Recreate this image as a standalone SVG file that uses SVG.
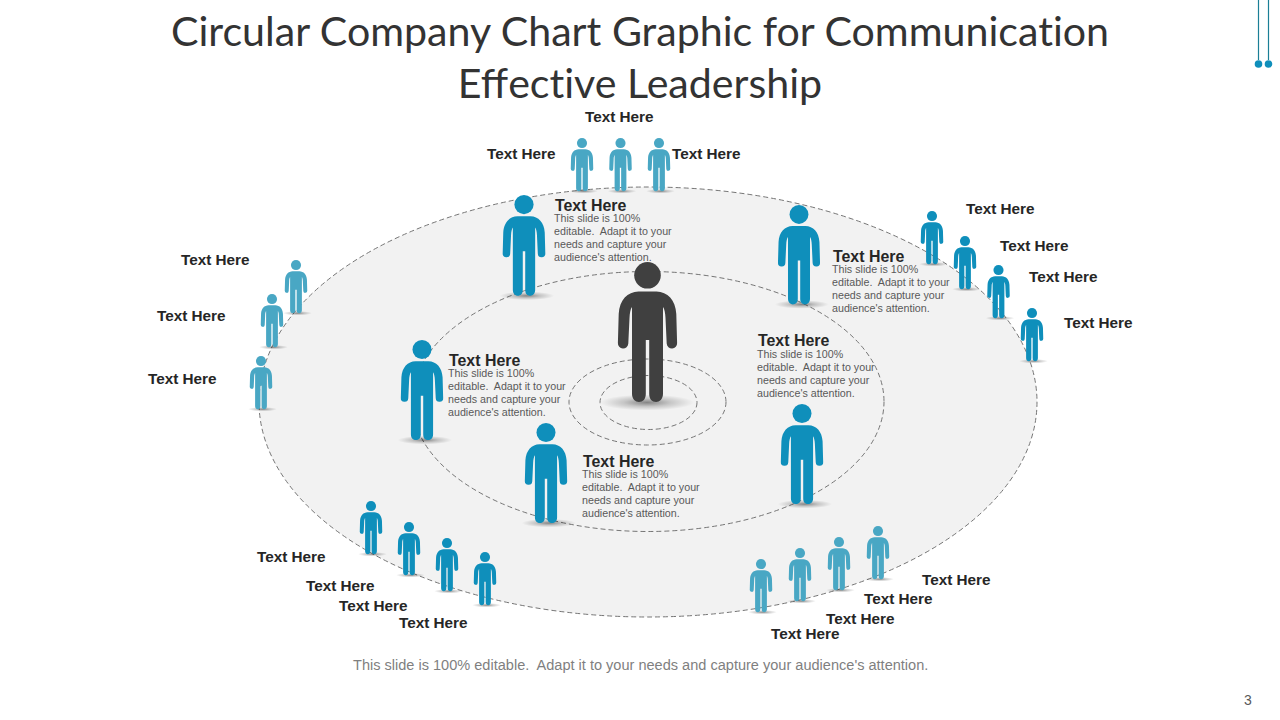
<svg xmlns="http://www.w3.org/2000/svg" width="1280" height="720" viewBox="0 0 1280 720">
<style>
text{font-family:"Liberation Sans",Arial,sans-serif;white-space:pre}
.title{font-family:Lato,"Liberation Sans",sans-serif;font-size:41.15px;fill:#333;text-anchor:middle}
.nl{font-variant-ligatures:none}
.lb{font-weight:bold;font-size:15.3px;fill:#262626}
.hd{font-weight:bold;font-size:15.9px;fill:#262626}
.p{font-size:10.7px;fill:#595959}
.ft{font-size:14.55px;fill:#7f7f7f}
.ring{stroke:#757575;stroke-width:1;stroke-dasharray:5 3}
.dark{fill:#404040}.teal{fill:#0f8fbb}.light{fill:#49a7c4}
</style>
<defs>
<radialGradient id="sh"><stop offset="0" stop-color="#000" stop-opacity=".45"/><stop offset=".5" stop-color="#000" stop-opacity=".18"/><stop offset="1" stop-color="#000" stop-opacity="0"/></radialGradient>
<g id="fig">
<circle cx="0" cy="13.3" r="13.3"/>
<path d="M-9 29.6H9C20 30 28 38 28.8 52L29.6 81A5.200 5.200 0 0 1 19.200 81.600L18 56C17.800 51 17 47 15.5 45V132C15.5 137 12 140 8.6 140C4.500 140 1.700 137 1.700 132V78H-1.700V132C-1.700 137-4.500 140-8.600 140C-12 140-15.500 137-15.500 132V45C-17 47-17.800 51-18 56L-19.200 81.600A5.200 5.200 0 0 1-29.600 81L-28.800 52C-28 38-20 30-9 29.600Z"/>
</g>
<g id="person">
<ellipse cx="4" cy="140" rx="38" ry="6" fill="url(#sh)"/>
<use href="#fig"/>
</g>
</defs>
<rect width="1280" height="720" fill="#fff"/>
<g id="title">
<text class="title nl" x="640" y="46">Circular Company Chart Graphic for Communication</text>
<text class="title" x="640" y="98">Eff<tspan class="nl">ective Leadership</tspan></text>
</g>
<g id="rings">
<ellipse class="ring" cx="648" cy="402" rx="389" ry="215" fill="#f2f2f2"/>
<ellipse class="ring" cx="648" cy="401.500" rx="236" ry="130" fill="none"/>
<ellipse class="ring" cx="647.500" cy="402" rx="78.500" ry="43" fill="none"/>
<ellipse class="ring" cx="648.500" cy="402.500" rx="48.500" ry="27" fill="none"/>
</g>
<g id="deco">
<path d="M1258.500 0V60M1268.500 0V60" stroke="#1a7f96" stroke-width="1.200" fill="none"/>
<circle cx="1258.500" cy="64" r="3.800" fill="#0f8fbb"/><circle cx="1268.500" cy="64" r="3.800" fill="#0f8fbb"/>
</g>
<g id="center"><ellipse cx="647" cy="402.500" rx="47" ry="8" fill="url(#sh)"/><use href="#fig" class="dark" transform="translate(647.500 262)"/></g>
<g id="lead-1" class="teal"><use href="#person" transform="translate(524 195) scale(.72)"/>
<text class="hd" x="555" y="211">Text Here</text>
<text class="p"><tspan x="554" y="222">This slide is 100%</tspan><tspan x="554" y="235">editable.  Adapt it to your</tspan><tspan x="554" y="248">needs and capture your</tspan><tspan x="554" y="261">audience's attention.</tspan></text></g>
<g id="lead-2" class="teal"><use href="#person" transform="translate(799 205) scale(.71)"/>
<text class="hd" x="833" y="262">Text Here</text>
<text class="p"><tspan x="832" y="273">This slide is 100%</tspan><tspan x="832" y="286">editable.  Adapt it to your</tspan><tspan x="832" y="299">needs and capture your</tspan><tspan x="832" y="312">audience's attention.</tspan></text></g>
<g id="lead-3" class="teal"><use href="#person" transform="translate(422 340) scale(.715)"/>
<text class="hd" x="449" y="366">Text Here</text>
<text class="p"><tspan x="448" y="377">This slide is 100%</tspan><tspan x="448" y="390">editable.  Adapt it to your</tspan><tspan x="448" y="403">needs and capture your</tspan><tspan x="448" y="416">audience's attention.</tspan></text></g>
<g id="lead-4" class="teal"><use href="#person" transform="translate(546 423) scale(.715)"/>
<text class="hd" x="583" y="467">Text Here</text>
<text class="p"><tspan x="582" y="478">This slide is 100%</tspan><tspan x="582" y="491">editable.  Adapt it to your</tspan><tspan x="582" y="504">needs and capture your</tspan><tspan x="582" y="517">audience's attention.</tspan></text></g>
<g id="lead-5" class="teal"><use href="#person" transform="translate(802 404) scale(.715)"/>
<text class="hd" x="758" y="346">Text Here</text>
<text class="p"><tspan x="757" y="358">This slide is 100%</tspan><tspan x="757" y="371">editable.  Adapt it to your</tspan><tspan x="757" y="384">needs and capture your</tspan><tspan x="757" y="397">audience's attention.</tspan></text></g>
<g id="top-1" class="light"><use href="#person" transform="translate(582 138) scale(.38)"/><text class="lb" x="487" y="159">Text Here</text></g>
<g id="top-2" class="light"><use href="#person" transform="translate(620.500 138) scale(.38)"/><text class="lb" x="585" y="122">Text Here</text></g>
<g id="top-3" class="light"><use href="#person" transform="translate(659 138) scale(.38)"/><text class="lb" x="672" y="159">Text Here</text></g>
<g id="right-1" class="teal"><use href="#person" transform="translate(932 211) scale(.38)"/><text class="lb" x="966" y="214">Text Here</text></g>
<g id="right-2" class="teal"><use href="#person" transform="translate(965 236) scale(.38)"/><text class="lb" x="1000" y="251">Text Here</text></g>
<g id="right-3" class="teal"><use href="#person" transform="translate(998.500 265) scale(.38)"/><text class="lb" x="1029" y="282">Text Here</text></g>
<g id="right-4" class="teal"><use href="#person" transform="translate(1032 308) scale(.38)"/><text class="lb" x="1064" y="328">Text Here</text></g>
<g id="left-1" class="light"><use href="#person" transform="translate(296 260) scale(.38)"/><text class="lb" x="181" y="265">Text Here</text></g>
<g id="left-2" class="light"><use href="#person" transform="translate(272 294) scale(.38)"/><text class="lb" x="157" y="321">Text Here</text></g>
<g id="left-3" class="light"><use href="#person" transform="translate(261 356) scale(.38)"/><text class="lb" x="148" y="384">Text Here</text></g>
<g id="bl-1" class="teal"><use href="#person" transform="translate(371 501) scale(.38)"/><text class="lb" x="257" y="562">Text Here</text></g>
<g id="bl-2" class="teal"><use href="#person" transform="translate(409 522) scale(.38)"/><text class="lb" x="306" y="591">Text Here</text></g>
<g id="bl-3" class="teal"><use href="#person" transform="translate(447 538) scale(.38)"/><text class="lb" x="339" y="611">Text Here</text></g>
<g id="bl-4" class="teal"><use href="#person" transform="translate(485 552) scale(.38)"/><text class="lb" x="399" y="628">Text Here</text></g>
<g id="br-1" class="light"><use href="#person" transform="translate(761 559) scale(.38)"/><text class="lb" x="771" y="639">Text Here</text></g>
<g id="br-2" class="light"><use href="#person" transform="translate(800 548) scale(.38)"/><text class="lb" x="826" y="624">Text Here</text></g>
<g id="br-3" class="light"><use href="#person" transform="translate(839 537) scale(.38)"/><text class="lb" x="864" y="604">Text Here</text></g>
<g id="br-4" class="light"><use href="#person" transform="translate(878 526) scale(.38)"/><text class="lb" x="922" y="585">Text Here</text></g>
<text class="ft" x="353" y="670">This slide is 100% editable.  Adapt it to your needs and capture your audience's attention.</text>
<text x="1244" y="705" font-size="14" fill="#595959">3</text>
</svg>
